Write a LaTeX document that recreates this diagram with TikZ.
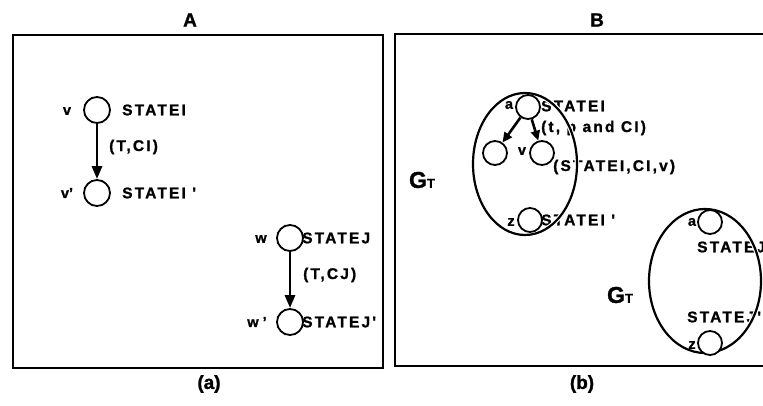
\documentclass[tikz,border=0pt]{standalone}
\usepackage{fontspec}
\setmainfont{Liberation Sans}[BoldFeatures={FakeBold=1.2}]
\newfontfamily\lblfont{Liberation Sans}[LetterSpace=14, BoldFeatures={FakeBold=1.2}]
\usetikzlibrary{arrows.meta}
\tikzset{
  lbl/.style={font=\lblfont\bfseries\fontsize{15.5}{15.5}\selectfont, inner sep=0pt, anchor=west},
  small/.style={font=\bfseries\fontsize{14.5}{14.5}\selectfont, inner sep=0pt},
  title/.style={font=\bfseries\fontsize{19}{19}\selectfont, inner sep=0pt},
  st/.style={circle, draw, line width=1.8pt, fill=white, minimum size=26pt, inner sep=0pt},
  sst/.style={circle, draw, line width=1.8pt, fill=white, minimum size=24pt, inner sep=0pt},
  frame/.style={draw, line width=2.2pt},
  arr/.style={line width=2.8pt, -{Triangle[length=13pt,width=10pt]}},
  sarr/.style={line width=2.6pt, -{Triangle[length=10pt,width=9pt]}},
  halo/.style={draw=white, line width=4.5pt},
  ell/.style={draw, line width=2.2pt},
  gt/.style={inner sep=0pt, font=\bfseries},
}
\begin{document}
\begin{tikzpicture}[x=1pt,y=-1pt]
\useasboundingbox (0,0) rectangle (763,406);
% ---------- Panel A ----------
\node[title] (tA) at (190,20) {A};
\node[title] (ca) at (209,384) {(a)};
\draw[frame] (13,35) rectangle (383,368);
\node[st] (v) at (97,110) {};
\node[small] (vl) at (67,111) {v};
\node[lbl] (vs) at (122,110) {STATEI};
\node[st] (vp) at (97,193) {};
\node[small] (vpl) at (67,193) {v'};
\node[lbl] (vps) at (122,193) {STATEI '};
\draw[arr] (v) -- (vp);
\node[lbl] (tci) at (109,147) {(T,CI)};
\node[st] (w) at (290,238) {};
\node[small] (wl) at (261,239) {w};
\node[lbl] (ws) at (302,238) {STATEJ};
\node[st] (wp) at (290,322) {};
\node[small] (wpl) at (257,322) {w '};
\node[lbl] (wps) at (302,322) {STATEJ'};
\draw[arr] (w) -- (wp);
\node[lbl] (tcj) at (303,275) {(T,CJ)};
% ---------- Panel B ----------
\node[title] (tB) at (597,20) {B};
\node[title] (cb) at (582,384) {(b)};
\draw[frame] (395,34) rectangle (790,366);
% first G_T
\node[gt] (g1) at (422,180) {\fontsize{23}{23}\selectfont G\fontsize{13}{13}\selectfont T};
\node[lbl] (s1) at (541,106) {STATEI};
\node[lbl] (t1) at (541,128) {(t, p and CI)};
\node[lbl] (s2) at (553,167) {(STATEI,CI,v)};
\node[lbl] (s3) at (541,220) {STATEI '};
\path[halo] (525,164) ellipse [x radius=52, y radius=71];
\path[ell] (525,164) ellipse [x radius=52, y radius=71];
\node[sst] (a1) at (528,107) {};
\node[small] (a1l) at (509,105) {a};
\node[sst] (c1) at (495,153) {};
\node[sst] (c2) at (542,153) {};
\node[small] (c2l) at (522,151) {v};
\node[sst] (z1) at (530,220) {};
\node[small] (z1l) at (511,222) {z};
\draw[sarr] (a1) -- (c1);
\draw[sarr] (a1) -- (c2);
% second G_T
\node[gt] (g2) at (620,295) {\fontsize{23}{23}\selectfont G\fontsize{13}{13}\selectfont T};
\node[lbl] (s4) at (697,247) {STATEJ};
\node[lbl] (s5) at (687,317) {STATEJ'};
\path[halo] (705,281) ellipse [x radius=56, y radius=72];
\path[ell] (705,281) ellipse [x radius=56, y radius=72];
\node[sst] (a2) at (710,222) {};
\node[small] (a2l) at (692,222) {a};
\node[sst] (z2) at (710,343) {};
\node[small] (z2l) at (692,345) {z};
\end{tikzpicture}
\end{document}
